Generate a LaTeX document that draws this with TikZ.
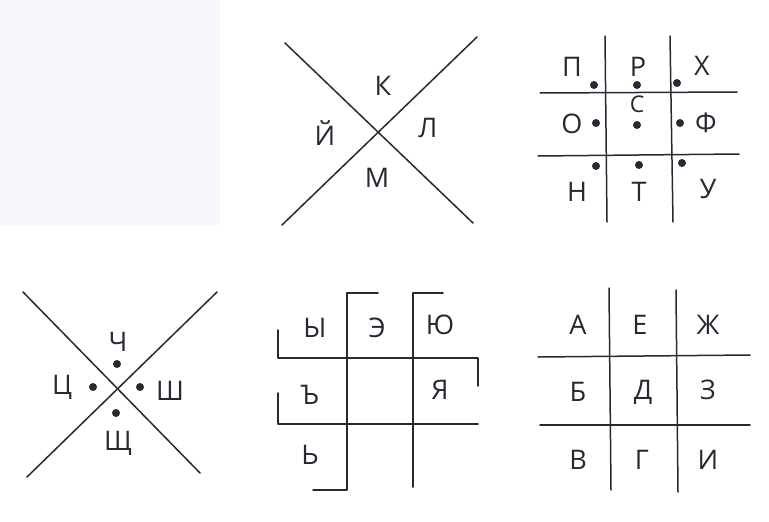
\documentclass[tikz,border=0pt]{standalone}
\usepackage{fontspec}
\setmainfont{Open Sans}
\definecolor{ink}{RGB}{40,40,50}
\definecolor{paper}{RGB}{247,248,251}
\begin{document}
\begin{tikzpicture}[x=1pt,y=-1pt,
  stroke/.style={draw=ink,line width=1.5pt,line cap=round,line join=round},
  let/.style={inner sep=0pt,text=ink,font=\fontsize{27}{27}\selectfont},
  pt/.style={circle,fill=ink,inner sep=0pt,minimum size=8pt}]
\useasboundingbox (0,0) rectangle (769,522);
\fill[white] (0,0) rectangle (769,522);
\fill[paper] (0,0) rectangle (220,225);
% ---- top X ----
\draw[stroke] (285,43) -- (473,223);
\draw[stroke] (477,37) -- (282,225);
\node[let] (k) at (383,86) {К};
\node[let] (j) at (325,133) {Й};
\node[let] (l) at (428,128) {Л};
\node[let] (m) at (377,178) {М};
% ---- top grid ----
\draw[stroke] (605,36) -- (607,222);
\draw[stroke] (670,36) -- (673,222);
\draw[stroke] (540,93) -- (737,92);
\draw[stroke] (538,156) -- (739,154);
\node[let] (p) at (572,67) {П};
\node[let] (r) at (638,67) {Р};
\node[let] (h) at (702,66) {Х};
\node[let] (o) at (572,124) {О};
\node[let,font=\fontsize{23}{23}\selectfont] (s) at (637,104) {С};
\node[let] (f) at (706,123) {Ф};
\node[let] (n) at (577,192) {Н};
\node[let] (t) at (639,192) {Т};
\node[let] (u) at (708,189) {У};
\node[pt] (dp) at (594,85) {};
\node[pt] (dr) at (637,85) {};
\node[pt] (dh) at (677,83) {};
\node[pt] (do) at (596,123) {};
\node[pt] (ds) at (637,125) {};
\node[pt] (df) at (680,123) {};
\node[pt] (dn) at (596,166) {};
\node[pt] (dt) at (639,165) {};
\node[pt] (du) at (682,163) {};
% ---- bottom X ----
\draw[stroke] (23,292) -- (200,473);
\draw[stroke] (217,292) -- (27,477);
\node[let] (ch) at (118,342) {Ч};
\node[let] (c) at (62,387) {Ц};
\node[let] (sh) at (170,391) {Ш};
\node[let] (sch) at (118,443) {Щ};
\node[pt] (dch) at (117,364) {};
\node[pt] (dc) at (93,387) {};
\node[pt] (dsh) at (140,387) {};
\node[pt] (dsch) at (116,413) {};
% ---- bottom middle grid ----
\draw[stroke] (378,293) -- (347,293) -- (347,490) -- (313,490);
\draw[stroke] (443,293) -- (413,293) -- (413,487);
\draw[stroke] (278,330) -- (278,358) -- (478,358) -- (478,386);
\draw[stroke] (278,393) -- (278,424) -- (478,424);
\node[let] (y) at (315,328) {Ы};
\node[let] (e) at (377,328) {Э};
\node[let] (yu) at (440,325) {Ю};
\node[let] (hard) at (310,395) {Ъ};
\node[let] (ya) at (440,390) {Я};
\node[let] (soft) at (310,455) {Ь};
% ---- bottom right grid ----
\draw[stroke] (609,288) -- (611,490);
\draw[stroke] (676,290) -- (678,492);
\draw[stroke] (538,357) -- (750,355);
\draw[stroke] (540,425) -- (750,425);
\node[let] (a) at (578,325) {А};
\node[let] (ie) at (640,325) {Е};
\node[let] (zh) at (708,325) {Ж};
\node[let] (b) at (578,392) {Б};
\node[let] (d) at (643,392) {Д};
\node[let] (z) at (708,390) {З};
\node[let] (v) at (578,460) {В};
\node[let] (g) at (642,460) {Г};
\node[let] (i) at (708,460) {И};
\end{tikzpicture}
\end{document}
